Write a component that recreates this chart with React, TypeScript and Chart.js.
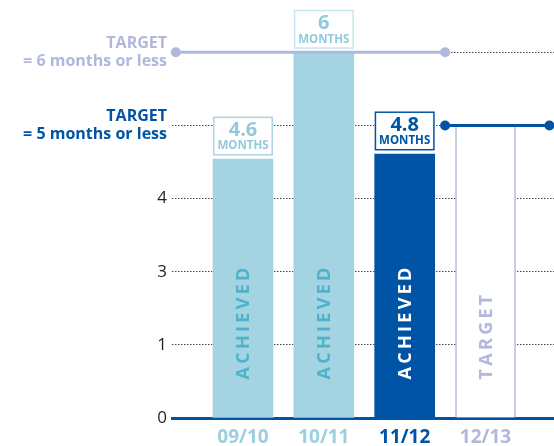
import React, { useEffect, useRef } from "react";
import { Chart, registerables } from "chart.js";

Chart.register(...registerables);

const categories = ["09/10", "10/11", "11/12", "12/13"];
const monthsValues = [4.6, 6, 4.8, 5];
const barLevels = [3.54, 5, 3.61, 4];
const statusLabels = ["ACHIEVED", "ACHIEVED", "ACHIEVED", "TARGET"];
const yTickLabels = ["0", "1", "3", "4"];
const targetLabels = [
  ["TARGET", "= 5 months or less"],
  ["TARGET", "= 6 months or less"],
];
const target6Line = [
  { x: -0.83, y: 5 },
  { x: 2.5, y: 5 },
];
const target5Line = [
  { x: 2.5, y: 4 },
  { x: 3.79, y: 4 },
];

const LIGHT = "#a4d3e1";
const DARK = "#0054a6";
const LAV = "#b1b8dc";
const FONT = "'Open Sans', 'Noto Sans', sans-serif";

const barFill = [LIGHT, LIGHT, DARK, "#ffffff"];
const barBorder = [LIGHT, LIGHT, DARK, LAV];
const statusColor = ["#4db3cc", "#4db3cc", "#ffffff", LAV];
const xLabelColor = ["#9ccfe0", "#9ccfe0", DARK, LAV];
const boxBorder = ["#a9d6e3", "#c8e6ef", DARK];
const boxText = ["#93cadb", "#93cadb", DARK];

const annotPlugin = {
  id: "annot",
  afterDatasetsDraw(chart: any) {
    const ctx = chart.ctx;
    const meta = chart.getDatasetMeta(0);
    meta.data.forEach((el: any, i: number) => {
      const p = el.getProps(["x", "y", "width", "base"], true);
      ctx.save();
      ctx.translate(p.x, p.base - 38);
      ctx.rotate(-Math.PI / 2);
      ctx.font = `bold 18px ${FONT}`;
      (ctx as any).letterSpacing = "3.3px";
      ctx.fillStyle = statusColor[i];
      ctx.textAlign = "left";
      ctx.textBaseline = "middle";
      ctx.fillText(statusLabels[i], 0, 1);
      ctx.restore();

      if (i < 3) {
        const h = 39;
        const bottom = p.y - 3.5;
        const top = bottom - h;
        const left = p.x - p.width / 2;
        ctx.save();
        ctx.fillStyle = "#ffffff";
        ctx.fillRect(left, top, p.width, h);
        ctx.strokeStyle = boxBorder[i];
        ctx.lineWidth = 1.5;
        ctx.strokeRect(left + 0.75, top + 0.75, p.width - 1.5, h - 1.5);
        ctx.fillStyle = boxText[i];
        ctx.textAlign = "center";
        ctx.textBaseline = "middle";
        ctx.font = `bold 20px ${FONT}`;
        ctx.fillText(String(monthsValues[i]), p.x, top + 13.5);
        ctx.font = `bold 11.5px ${FONT}`;
        ctx.fillText("MONTHS", p.x, top + 29.5);
        ctx.restore();
      }
    });
  },
};

export default function App() {
  const ref = useRef<HTMLCanvasElement>(null);

  useEffect(() => {
    if (!ref.current) return;
    const chart = new Chart(ref.current, {
      type: "bar",
      data: {
        datasets: [
          {
            type: "bar",
            data: barLevels.map((v, i) => ({ x: i, y: v })),
            backgroundColor: barFill,
            borderColor: barBorder,
            borderWidth: [0, 0, 0, 1.5],
            borderSkipped: "bottom",
            barThickness: 60,
            order: 2,
          } as any,
          {
            type: "line",
            data: target6Line,
            borderColor: LAV,
            backgroundColor: LAV,
            borderWidth: 3,
            pointRadius: 5,
            pointBorderWidth: 0,
            pointBackgroundColor: LAV,
            clip: false,
            order: 0,
          } as any,
          {
            type: "line",
            data: target5Line,
            borderColor: DARK,
            backgroundColor: DARK,
            borderWidth: 3,
            pointRadius: 5,
            pointBorderWidth: 0,
            pointBackgroundColor: DARK,
            clip: false,
            order: 0,
          } as any,
        ],
      },
      options: {
        animation: false,
        responsive: false,
        devicePixelRatio: 1,
        layout: { autoPadding: false, padding: { top: 52.3, right: 0, bottom: 0, left: 0 } },
        plugins: { legend: { display: false }, tooltip: { enabled: false } },
        scales: {
          x: {
            type: "linear",
            offset: false,
            min: -0.878,
            max: 3.847,
            grid: { display: false, drawTicks: false, offset: false },
            border: { display: true, color: DARK, width: 3 },
            afterBuildTicks: (scale: any) => {
              scale.ticks = categories.map((_, i) => ({ value: i }));
            },
            afterFit: (scale: any) => {
              scale.height = 28;
              scale.paddingLeft = 0;
              scale.paddingRight = 0;
            },
            ticks: {
              autoSkip: false,
              maxRotation: 0,
              padding: 8,
              callback: (v: any) => categories[Math.round(v)],
              color: (c: any) => xLabelColor[c.index] || DARK,
              font: { family: FONT, size: 19, weight: "bold" },
            },
          },
          y: {
            type: "linear",
            min: 0,
            max: 5,
            grid: {
              drawTicks: false,
              color: (c: any) => (c.tick && c.tick.value === 0 ? "rgba(0,0,0,0)" : "#444"),
              lineWidth: 1,
            },
            border: { display: false, dash: [1.5, 1.5] },
            afterFit: (scale: any) => {
              scale.width = 172;
              scale.paddingTop = 0;
              scale.paddingBottom = 0;
            },
            ticks: {
              stepSize: 1,
              padding: 5,
              autoSkip: false,
              callback: (v: any) => {
                const n = Math.round(v);
                return n < 4 ? yTickLabels[n] : targetLabels[n - 4];
              },
              color: (c: any) => {
                const v = c.tick ? c.tick.value : 0;
                if (v === 5) return LAV;
                if (v === 4) return DARK;
                return "#231f20";
              },
              font: (c: any) => {
                const v = c.tick ? c.tick.value : 0;
                return v >= 4
                  ? { family: FONT, size: 16, weight: "bold", lineHeight: 1.15 }
                  : { family: FONT, size: 17, weight: "normal" };
              },
            },
          },
        },
      } as any,
      plugins: [annotPlugin],
    });
    return () => chart.destroy();
  }, []);

  return (
    <div style={{ position: "fixed", left: 0, top: 0, width: 554, height: 446, background: "#fff" }}>
      <canvas ref={ref} width={554} height={446} />
    </div>
  );
}
